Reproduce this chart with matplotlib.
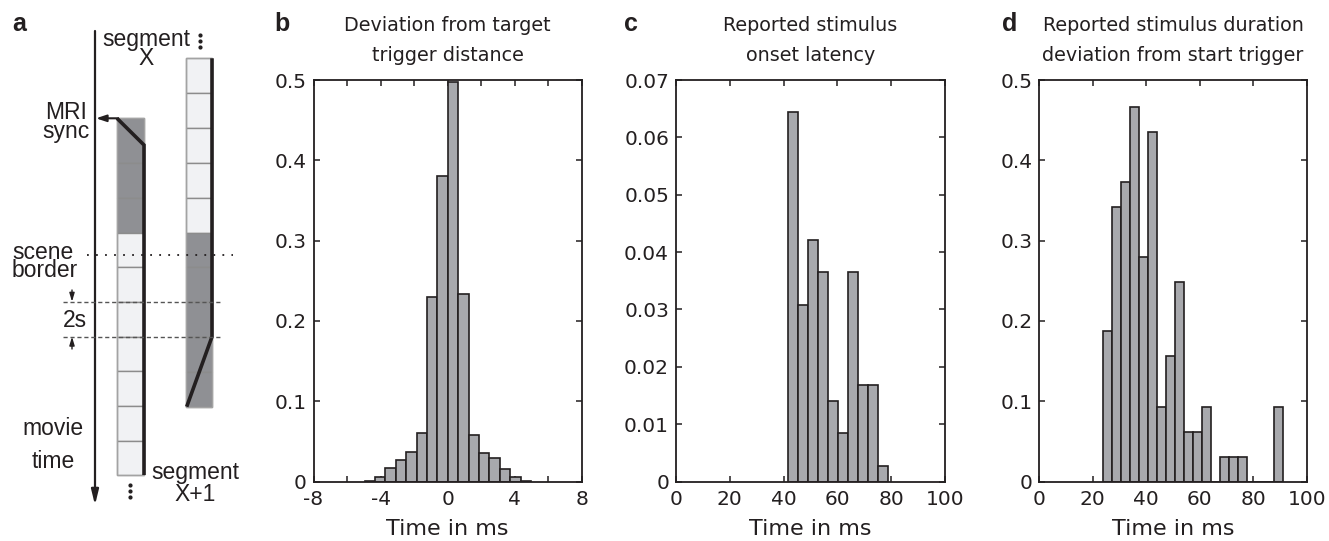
import numpy as np
import matplotlib
matplotlib.use("Agg")
import matplotlib.pyplot as plt
from matplotlib.patches import Rectangle

# ---------------- data ----------------
# panel b: deviation from target trigger distance (ms)
b_start, b_width = -4.96, 0.62
b_heights = [0.001, 0.005, 0.017, 0.027, 0.037, 0.060, 0.230, 0.380,
             0.497, 0.234, 0.058, 0.036, 0.029, 0.016, 0.005, 0.001]
# panel c: reported stimulus onset latency (ms)
c_start, c_width = 41.6, 3.72
c_heights = [0.0645, 0.0308, 0.0421, 0.0365, 0.0140, 0.0084, 0.0365,
             0.0169, 0.0169, 0.0027]
# panel d: reported stimulus duration deviation from start trigger (ms)
d_start, d_width = 23.9, 3.37
d_heights = [0.187, 0.342, 0.373, 0.466, 0.280, 0.435, 0.093, 0.156,
             0.249, 0.062, 0.062, 0.093, 0.0, 0.031, 0.031, 0.031,
             0.0, 0.0, 0.0, 0.093]

titles = ["Deviation from target\ntrigger distance",
          "Reported stimulus\nonset latency",
          "Reported stimulus duration\ndeviation from start trigger"]
xlabel = "Time in ms"
panel_letters = ["a", "b", "c", "d"]

b_xticks = [-8, -4, 0, 4, 8]
b_xminor = [-6, -2, 2, 6]
b_yticks = [0, 0.1, 0.2, 0.3, 0.4, 0.5]
c_xticks = [0, 20, 40, 60, 80, 100]
c_yticks = [0, 0.01, 0.02, 0.03, 0.04, 0.05, 0.06, 0.07]
d_xticks = [0, 20, 40, 60, 80, 100]
d_yticks = [0, 0.1, 0.2, 0.3, 0.4, 0.5]

# schematic (panel a) structure: cell boundaries of each segment
segX_bounds = [118.3, 162.7, 197.7, 232.7, 267.3, 302.0, 336.7, 371.3, 406.0, 440.5, 475.0]
segX_dark = [True, True, True, False, False, False, False, False, False, False]
segX1_bounds = [58.3, 93.3, 128.3, 162.7, 197.7, 232.7, 266.7, 301.7, 336.7, 371.7, 406.7]
segX1_dark = [False] * 5 + [True] * 5

# ---------------- style ----------------
W, H = 1329, 541
INK = "#231f20"
BAR = "#a8a9ad"
LIGHT = "#f1f2f4"
DARK = "#8f9094"
CELL_EDGE = "#8c8c8c"

plt.rcParams["font.family"] = ["DejaVu Sans"]
fig = plt.figure(figsize=(W / 100, H / 100), dpi=100)

def px_axes(left, right, top, bottom):
    return fig.add_axes([left / W, 1 - bottom / H, (right - left) / W, (bottom - top) / H])

def style_hist(ax, xlim, ylim, xticks, yticks, xminor=None):
    ax.set_xlim(*xlim)
    ax.set_ylim(*ylim)
    ax.set_xticks(xticks)
    ax.set_xticklabels([f"{t:g}" for t in xticks])
    if xminor is not None:
        ax.set_xticks(xminor, minor=True)
    ax.set_yticks(yticks)
    ax.set_yticklabels([f"{t:g}" for t in yticks])
    for s in ax.spines.values():
        s.set_color(INK)
        s.set_linewidth(1.3)
    ax.tick_params(which="both", direction="in", top=True, right=True,
                   length=4, width=1.1, color=INK, labelcolor=INK,
                   labelsize=14.5)
    ax.tick_params(axis="x", which="both", pad=6)
    ax.tick_params(axis="y", which="both", pad=5)
    ax.set_xlabel(xlabel, fontsize=16, color=INK, labelpad=7.5)

def draw_bars(ax, start, width, heights):
    lefts = start + width * np.arange(len(heights))
    ax.bar(lefts, heights, width=width, align="edge", color=BAR,
           edgecolor=INK, linewidth=1.2, zorder=2)

top, bottom = 80, 481.5
axb = px_axes(313.5, 582, top, bottom)
axc = px_axes(676, 945, top, bottom)
axd = px_axes(1039.3, 1306.7, top, bottom)

draw_bars(axb, b_start, b_width, b_heights)
style_hist(axb, (-8, 8), (0, 0.5), b_xticks, b_yticks, xminor=b_xminor)
draw_bars(axc, c_start, c_width, c_heights)
style_hist(axc, (0, 100), (0, 0.07), c_xticks, c_yticks)
draw_bars(axd, d_start, d_width, d_heights)
style_hist(axd, (0, 100), (0, 0.5), d_xticks, d_yticks)

for ax, t in zip([axb, axc, axd], titles):
    ax.set_title(t, fontsize=13.8, color=INK, pad=14, linespacing=1.68)

# panel letters
for letter, xpix in zip(panel_letters, [19, 282, 631, 1010]):
    fig.text(xpix / W, 1 - 24 / H, letter, fontsize=18, fontweight="bold",
             family="Liberation Sans", color=INK, ha="center", va="center")

# ---------------- panel a schematic ----------------
axa = fig.add_axes([0, 0, 260 / W, 1])
axa.set_xlim(0, 260)
axa.set_ylim(H, 0)
axa.axis("off")

def draw_column(x0, x1, bounds, dark):
    for i in range(len(bounds) - 1):
        axa.add_patch(Rectangle((x0, bounds[i]), x1 - x0, bounds[i + 1] - bounds[i],
                                facecolor=DARK if dark[i] else LIGHT,
                                edgecolor=CELL_EDGE, linewidth=1.0, zorder=2))
    axa.add_patch(Rectangle((x0, bounds[0]), x1 - x0, bounds[-1] - bounds[0],
                            facecolor="none", edgecolor="#a3a3a3", linewidth=1.0, zorder=3))

draw_column(117, 144, segX_bounds, segX_dark)
draw_column(186, 212, segX1_bounds, segX1_dark)

# thick timing lines
axa.plot([117, 144, 144], [118.3, 145, 475], color=INK, lw=2.6, zorder=4,
         solid_capstyle="butt", solid_joinstyle="miter")
axa.plot([212, 212, 186.7], [58.3, 336.7, 406.7], color=INK, lw=2.6, zorder=4,
         solid_capstyle="butt", solid_joinstyle="miter")

# movie time axis
axa.annotate("", xy=(95, 505), xytext=(95, 31),
             arrowprops=dict(arrowstyle="-|>,head_length=0.9,head_width=0.22",
                             color=INK, lw=1.6, shrinkA=0, shrinkB=0))
# MRI sync arrow
axa.annotate("", xy=(96, 118.3), xytext=(118, 118.3),
             arrowprops=dict(arrowstyle="-|>,head_length=0.6,head_width=0.2",
                             color=INK, lw=1.5, shrinkA=0, shrinkB=0))

# scene border (dotted) and 2 s markers (dashed)
axa.plot([87, 233], [255, 255], color=INK, lw=1.3, linestyle=(0, (1, 4)), zorder=5)
for yy in [301.7, 336.7]:
    axa.plot([63, 221], [yy, yy], color="#555555", lw=1.0, linestyle=(0, (3, 2)), zorder=5)
axa.annotate("", xy=(72, 301.7), xytext=(72, 290),
             arrowprops=dict(arrowstyle="-|>,head_length=0.5,head_width=0.15",
                             color=INK, lw=1.0, shrinkA=0, shrinkB=0))
axa.annotate("", xy=(72, 336.7), xytext=(72, 349),
             arrowprops=dict(arrowstyle="-|>,head_length=0.5,head_width=0.15",
                             color=INK, lw=1.0, shrinkA=0, shrinkB=0))

# vertical ellipsis dots
axa.plot([200, 200, 200], [35, 40.8, 46.6], "o", ms=2.0, color=INK)
axa.plot([130, 130, 130], [485, 491, 497], "o", ms=2.0, color=INK)

# multi-line labels: y is the baseline of the last line
fa = dict(family="Liberation Sans", fontsize=16.5, color=INK, va="baseline")
axa.text(146.5, 65, "segment\nX", ha="center", multialignment="center",
         linespacing=0.80, **fa)
axa.text(66, 138, "MRI\nsync", ha="center", multialignment="center",
         linespacing=0.80, **fa)
axa.text(12, 277, "scene\nborder", ha="left", multialignment="left",
         linespacing=0.74, **fa)
axa.text(75, 327, "2s", ha="center", **fa)
axa.text(53, 468, "movie\ntime", ha="center", multialignment="center",
         linespacing=1.56, **fa)
axa.text(195, 501, "segment\nX+1", ha="center", multialignment="center",
         linespacing=0.92, **fa)

fig.savefig("out.png", dpi=100)
